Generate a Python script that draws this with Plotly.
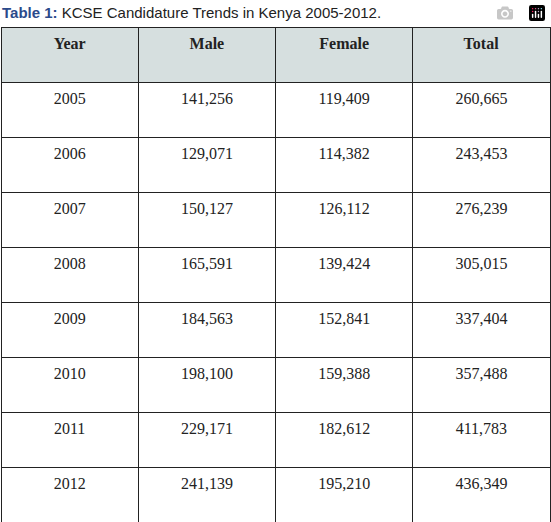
import plotly.graph_objects as go

# Table data
headers = ['Year', 'Male', 'Female', 'Total']
years = ['2005', '2006', '2007', '2008', '2009', '2010', '2011', '2012']
male = ['141,256', '129,071', '150,127', '165,591', '184,563', '198,100', '229,171', '241,139']
female = ['119,409', '114,382', '126,112', '139,424', '152,841', '159,388', '182,612', '195,210']
total = ['260,665', '243,453', '276,239', '305,015', '337,404', '357,488', '411,783', '436,349']

line_col = '#222222'
serif = 'Liberation Serif, DejaVu Serif, serif'

# leading break pushes text toward the middle of each tall row
def pad(col):
    return ['<br>' + v for v in col]

fig = go.Figure(go.Table(
    columnwidth=[1, 1, 1, 1],
    header=dict(
        values=pad(['<b>%s</b>' % h for h in headers]),
        fill_color='#d6dfdf',
        line=dict(color=line_col, width=1),
        align='center',
        height=55,
        font=dict(family=serif, size=16, color='#222222'),
    ),
    cells=dict(
        values=[pad(years), pad(male), pad(female), pad(total)],
        fill_color='white',
        line=dict(color=line_col, width=1),
        align='center',
        height=55,
        font=dict(family=serif, size=16, color='#222222'),
    ),
))

fig.update_layout(
    width=551, height=522,
    margin=dict(l=1, r=1, t=27, b=0),
    paper_bgcolor='white',
    annotations=[dict(
        text='<b><span style="color:#2b4a8b">Table 1:</span></b> KCSE Candidature Trends in Kenya 2005-2012.',
        x=0, y=1, xref='paper', yref='paper', xanchor='left', yanchor='bottom',
        yshift=4, xshift=-1, showarrow=False,
        font=dict(family='Liberation Sans, Arial, sans-serif', size=15, color='#222222'),
    )],
)

fig.write_html('out.html', post_script="document.body.style.margin='0';")
